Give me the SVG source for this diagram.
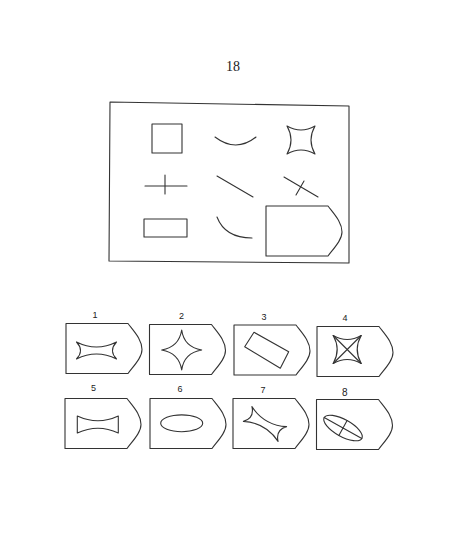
<svg xmlns="http://www.w3.org/2000/svg" width="462" height="555" viewBox="0 0 462 555">
<defs>
<style>
.ln{fill:none;stroke:#333;stroke-width:1.1;stroke-linejoin:round;stroke-linecap:round}
.card{fill:none;stroke:#333;stroke-width:1.1;stroke-linejoin:round}
.num{font-family:"Liberation Sans",Arial,sans-serif;font-size:9px;fill:#222;text-anchor:middle}
.title{font-family:"Liberation Serif","Times New Roman",serif;font-size:14px;fill:#222;text-anchor:middle}
</style>
<path id="cardShape" d="M0,0 H62 C68,8 76,16 76,26 C76,34 68,42 62,50 H0 Z"/>
<path id="concRect" d="M-20,-8.5 Q0,1.5 20,-8.5 Q12,0 20,8.5 Q0,-1.5 -20,8.5 Q-12,0 -20,-8.5 Z"/>
<path id="concSq" d="M-14,-14 Q0,-6 14,-14 Q6,0 14,14 Q0,6 -14,14 Q-6,0 -14,-14 Z"/>
</defs>
<rect width="462" height="555" fill="#fff"/>
<text class="title" x="233" y="71">18</text>

<g id="question">
<polygon class="ln" points="110,102 349,106 349,263 109,261"/>
<g id="q-square"><rect class="ln" x="152" y="124" width="30" height="29"/></g>
<g id="q-arc"><path class="ln" d="M215,137 Q236,153 256,137"/></g>
<g id="q-concsq"><use href="#concSq" class="ln" transform="translate(301,140)"/></g>
<g id="q-cross"><path class="ln" d="M145,186 H187 M165,175 V194"/></g>
<g id="q-diag"><path class="ln" d="M217,176 L253,197"/></g>
<g id="q-x"><path class="ln" d="M284,177 L318,197 M304,181 L296,195"/></g>
<g id="q-rect"><rect class="ln" x="144" y="219" width="43" height="18"/></g>
<g id="q-curve"><path class="ln" d="M217,217 Q225,238 252,238"/></g>
<g id="q-card"><use href="#cardShape" class="card" transform="translate(266,206)"/></g>
</g>

<g id="opt1">
<text class="num" x="95" y="318">1</text>
<use href="#cardShape" class="card" transform="translate(66,323.5)"/>
<use href="#concRect" class="ln" transform="translate(96.5,350.5)"/>
</g>
<g id="opt2">
<text class="num" x="181.5" y="318.5">2</text>
<use href="#cardShape" class="card" transform="translate(149.5,324.5)"/>
<path class="ln" d="M181.7,330 Q184,347 201.7,350 Q184,353 181.7,370 Q179,353 161.7,350 Q179,347 181.7,330 Z"/>
</g>
<g id="opt3">
<text class="num" x="264" y="320">3</text>
<use href="#cardShape" class="card" transform="translate(234,325)"/>
<polygon class="ln" points="254,332.3 288.7,351.7 280.3,368.3 244.7,346.7"/>
</g>
<g id="opt4">
<text class="num" x="345" y="321">4</text>
<use href="#cardShape" class="card" transform="translate(317,326.5)"/>
<use href="#concSq" class="ln" transform="translate(347.2,349.5)"/>
<path class="ln" d="M333.2,335.5 L361.2,363.5 M361.2,335.5 L333.2,363.5"/>
</g>
<g id="opt5">
<text class="num" x="93.5" y="390.5">5</text>
<use href="#cardShape" class="card" transform="translate(65,398.5)"/>
<path class="ln" d="M77.3,416 Q98,425.5 118.3,416 L118.3,433 Q98,423.5 77.3,433 Z"/>
</g>
<g id="opt6">
<text class="num" x="180" y="392">6</text>
<use href="#cardShape" class="card" transform="translate(150,398.5)"/>
<ellipse class="ln" cx="181.7" cy="423.3" rx="21" ry="8.4"/>
</g>
<g id="opt7">
<text class="num" x="263" y="392.5">7</text>
<use href="#cardShape" class="card" transform="translate(233,398.5)"/>
<use href="#concRect" class="ln" transform="translate(265,424) rotate(30)"/>
</g>
<g id="opt8">
<text class="num" x="344.7" y="395.5" style="font-size:10px">8</text>
<use href="#cardShape" class="card" transform="translate(316.5,399.5)"/>
<g transform="translate(343,428) rotate(29)">
<ellipse class="ln" cx="0" cy="0" rx="21.5" ry="8.5"/>
<path class="ln" d="M-21.5,0 H21.5 M0,-8.5 V8.5"/>
</g>
</g>
</svg>
